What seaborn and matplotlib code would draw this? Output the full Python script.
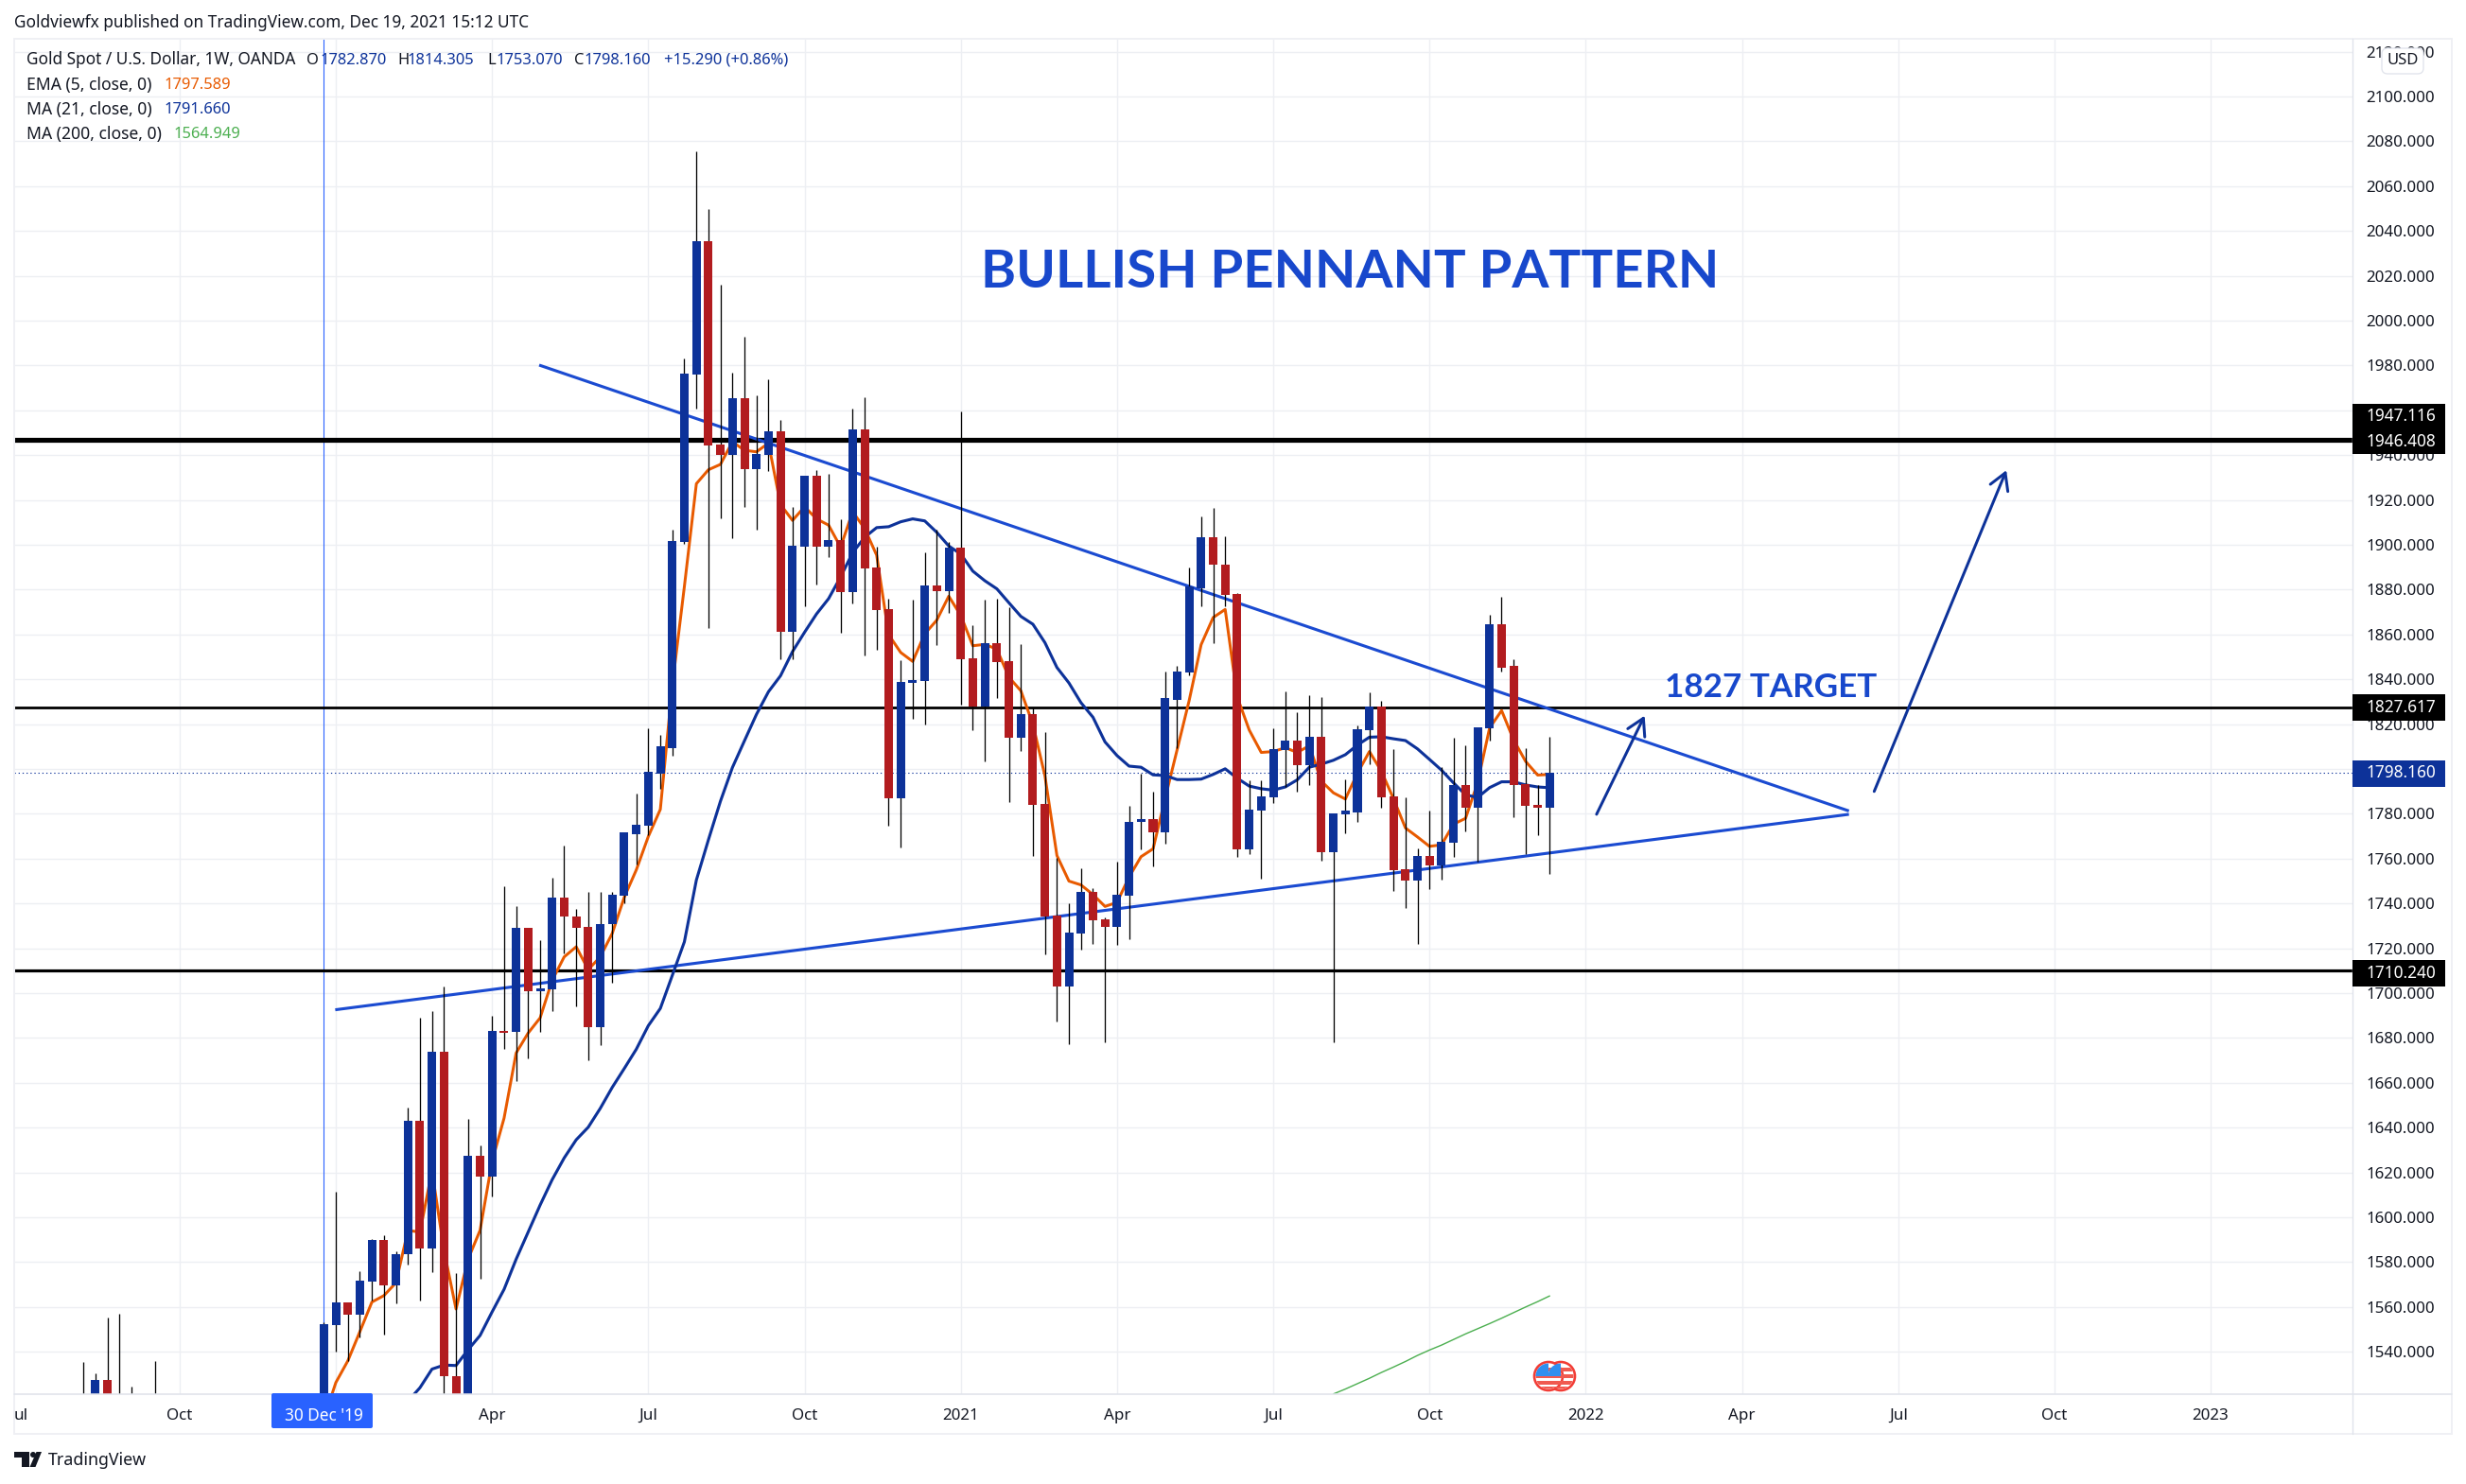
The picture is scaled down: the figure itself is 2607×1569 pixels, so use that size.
import matplotlib
matplotlib.use("Agg")
import matplotlib.pyplot as plt
import seaborn as sns
from matplotlib.patches import Rectangle, Circle, Polygon, FancyBboxPatch
from matplotlib.lines import Line2D
from matplotlib.transforms import Affine2D

W, H = 2607, 1569

# ---- weekly candles, week 0 = 30 Dec 2019 ----
opens = [1517, 1552, 1562, 1556.5, 1571.4, 1590, 1569.6, 1583.4, 1643.1, 1586,
         1674, 1529, 1498, 1627.5, 1618, 1683, 1682.9, 1729.2, 1701, 1701.8,
         1742.8, 1734, 1729.7, 1685, 1730.7, 1743.6, 1771, 1774.7, 1798, 1809.5,
         1901.2, 1976, 2035.4, 1944.7, 1940, 1965.4, 1933.8, 1940, 1950.5, 1861.4,
         1899, 1930.7, 1899, 1902, 1878.9, 1951.4, 1889.8, 1871.3, 1787, 1838.6,
         1839.2, 1881.9, 1879.3, 1898.7, 1849.4, 1828, 1856, 1848, 1813.9, 1824.4,
         1784.3, 1734.5, 1702.9, 1726.5, 1745, 1732.8, 1729.4, 1743.4, 1776.5, 1777.5,
         1771.6, 1831, 1843.1, 1880.8, 1903.6, 1891.3, 1877.9, 1764, 1781.4, 1787.3,
         1808.3, 1812.5, 1801.6, 1814.2, 1762.8, 1779.8, 1780.8, 1817.2, 1827.9, 1787.7,
         1755.1, 1750.1, 1761.1, 1756.9, 1767, 1792.7, 1782.9, 1818, 1864.8, 1845.9,
         1793.2, 1783.8, 1782.87]
closes = [1552.5, 1562, 1556.5, 1571.7, 1590, 1569.6, 1583.5, 1643.1, 1586, 1674,
          1529, 1498, 1627.5, 1618, 1683, 1682.5, 1729.2, 1701, 1702.3, 1742.8,
          1734, 1729.2, 1685, 1730.9, 1744, 1771.6, 1775, 1798.6, 1810, 1901.7,
          1976.4, 2035.4, 1944.3, 1940, 1965.4, 1933.8, 1940.6, 1950.5, 1861.4, 1899.5,
          1930.7, 1899, 1902, 1878.9, 1951.4, 1889.4, 1870.9, 1787, 1838.8, 1839.7,
          1881.9, 1879.3, 1898.7, 1848.9, 1828, 1856, 1847.6, 1813.9, 1824.4, 1783.8,
          1734, 1702.9, 1727, 1745, 1732.4, 1729.4, 1743.8, 1776.6, 1777.5, 1771.6,
          1831.5, 1843.3, 1881.5, 1903.6, 1891, 1877.5, 1764, 1781.7, 1787.7, 1808.8,
          1812.5, 1801.6, 1814.2, 1762.8, 1780, 1781.4, 1817.6, 1827.9, 1787.3, 1754.8,
          1750.1, 1761.1, 1756.9, 1767.4, 1792.7, 1782.9, 1818.4, 1864.8, 1845.3, 1792.7,
          1783.5, 1782.6, 1798.16]
highs = [1553, 1611.5, 1562, 1576, 1590.3, 1592, 1584.7, 1649, 1689, 1692,
         1703, 1575, 1644, 1632, 1690, 1747.7, 1738.8, 1729.2, 1723.7, 1751.4,
         1766, 1737.6, 1745, 1745, 1745, 1771.6, 1789, 1818, 1815.4, 1906.6,
         1983, 2075.4, 2050, 2016, 1977, 1992.7, 1966.7, 1973.8, 1955.7, 1917,
         1930.7, 1933.3, 1931.6, 1911.4, 1960.7, 1965.8, 1899, 1876, 1848.5, 1875.4,
         1896.5, 1906.8, 1901.2, 1959.4, 1864, 1875.4, 1875.8, 1872, 1855.6, 1827.6,
         1816.3, 1760.2, 1740, 1755.7, 1747, 1733.8, 1758.8, 1783.6, 1798.1, 1790,
         1843.3, 1846.2, 1890, 1912.8, 1916.5, 1904, 1878.4, 1795, 1795, 1818.3,
         1834.5, 1825.2, 1832.8, 1831.9, 1780, 1795.5, 1819.3, 1834, 1830.3, 1808.8,
         1787.3, 1764.4, 1781.4, 1800.8, 1813.9, 1810.4, 1818.4, 1868.6, 1877, 1849,
         1809.2, 1792.9, 1814.305]
lows = [1517, 1540, 1536, 1546.5, 1563, 1547.5, 1561.7, 1579, 1563, 1575.6,
        1511, 1451, 1455, 1572.7, 1609.5, 1675, 1661, 1671, 1682.6, 1692,
        1717.6, 1694, 1670, 1677, 1704.5, 1740, 1757.6, 1770.6, 1791, 1806,
        1900.4, 1960.7, 1863, 1912, 1903, 1916.7, 1906.6, 1933, 1849, 1849,
        1872.8, 1882.5, 1894.4, 1860.6, 1873.7, 1850.7, 1853, 1774.9, 1765.2, 1822.2,
        1819.7, 1855.2, 1869.6, 1828.7, 1817.3, 1803.5, 1831.5, 1785.4, 1808, 1761.3,
        1717.2, 1687.5, 1677.3, 1719.3, 1722.1, 1678, 1721.4, 1724.2, 1764, 1756.4,
        1766.5, 1809.2, 1842, 1872.8, 1856, 1872.4, 1761, 1762, 1751, 1784.7,
        1792, 1789.8, 1792.7, 1759, 1678, 1771.2, 1776.6, 1802, 1782.6, 1745.5,
        1737.8, 1722.1, 1746.4, 1750.8, 1760.7, 1772.1, 1758.8, 1812.5, 1843.3, 1778.7,
        1762, 1770.5, 1753.07]

# a few 2019 weeks whose tops poke above the lower edge
early_weeks = [-20, -19, -18, -17, -16, -14]
early_open = [1505, 1520, 1527.6, 1500, 1495, 1490]
early_close = [1500, 1527.6, 1520, 1505, 1490, 1495]
early_high = [1535.5, 1530.6, 1555.3, 1557.2, 1524.7, 1536]
early_low = [1490, 1510, 1505, 1495, 1480, 1485]

ema5 = [1510, 1526.3, 1536, 1549, 1562.2, 1565.1, 1570.8, 1594.2, 1593.4, 1620.8,
        1585.3, 1559.1, 1581.3, 1594.2, 1624.9, 1644.3, 1673.3, 1682.2, 1689, 1705.7,
        1716.2, 1720.7, 1710.5, 1716.2, 1726.7, 1742.8, 1755, 1769.9, 1782, 1837.3,
        1881.4, 1927.3, 1933.5, 1935.9, 1946, 1942.2, 1941.5, 1945.4, 1918, 1910.9,
        1917, 1911.6, 1908.8, 1899, 1914.8, 1907.3, 1895.4, 1859.9, 1852, 1848,
        1860.3, 1866.4, 1877.1, 1868.5, 1855, 1855.6, 1853.5, 1841, 1834.9, 1820,
        1797, 1761.4, 1750, 1748.3, 1744, 1738.7, 1740.5, 1751.8, 1760.9, 1764.4,
        1786.8, 1808.6, 1830.5, 1855.5, 1867.6, 1871.2, 1832.2, 1817.4, 1807.4, 1807.8,
        1809.5, 1807.4, 1810.4, 1794.6, 1789.4, 1786.6, 1798.1, 1807.8, 1799, 1786.8,
        1773.7, 1769.7, 1765.5, 1766.2, 1775.4, 1778, 1793.8, 1818.3, 1826.1, 1813,
        1803.4, 1797.3, 1797.589]

ma21_weeks = list(range(7, 103))
ma21 = [1518, 1524, 1532.3, 1534.1, 1533.9, 1540.9, 1547.3, 1557.8, 1567.9, 1581.3,
        1593.4, 1605.5, 1616.8, 1626.5, 1634.6, 1640.2, 1648.6, 1658, 1666.4, 1675,
        1685.5, 1693.2, 1708, 1722.9, 1750.5, 1768.4, 1785.6, 1800.7, 1812.6, 1824.4,
        1834.5, 1841.6, 1852.4, 1861, 1869.2, 1876, 1885.7, 1896.5, 1903.4, 1907.7,
        1908.1, 1910.3, 1911.6, 1910.7, 1905.6, 1899.5, 1895.9, 1888.3, 1884, 1880.4,
        1874.2, 1868.1, 1864.6, 1856.4, 1845.3, 1838.4, 1829.6, 1823.1, 1812.1, 1806,
        1801.3, 1800.8, 1797.4, 1797.1, 1795.3, 1795.3, 1795.5, 1797.6, 1800.1, 1795.9,
        1792.4, 1791.2, 1790.6, 1792, 1795.2, 1800.8, 1802.2, 1803.9, 1806.4, 1810.7,
        1814.2, 1814.4, 1813.5, 1812.7, 1809, 1804.3, 1799.5, 1793.8, 1788.5, 1787.3,
        1791.7, 1794.3, 1794.3, 1792.9, 1792, 1791.66]
ma200_weeks = list(range(84, 103))
ma200 = [1521.2, 1523.4, 1525.8, 1528.2, 1530.8, 1533.2, 1535.7, 1538.4, 1540.8, 1543,
         1545.5, 1548, 1550.3, 1552.6, 1555, 1557.5, 1560, 1562.4, 1564.95]

down_line_x, down_line_y = [17.92, 126.9], [1980.2, 1781.3]
up_line_x, up_line_y = [0.95, 126.9], [1692.6, 1779.8]
small_arrow_x, small_arrow_y = [105.9, 109.9], [1779.8, 1823.8]
big_arrow_x, big_arrow_y = [129.0, 140.0], [1790.0, 1933.3]

level_prices = [1947.116, 1946.408, 1827.617, 1710.24]
level_widths = [3.2, 3.2, 2.8, 3.2]
last_price = 1798.16

x_tick_weeks = [-12, 1, 14, 27, 40, 53, 66, 79, 92, 105, 118, 131, 144, 157]
x_tick_text = ['Oct', '', 'Apr', 'Jul', 'Oct', '2021', 'Apr', 'Jul', 'Oct', '2022', 'Apr', 'Jul', 'Oct', '2023']
y_ticks = list(range(1540, 2121, 20))
y_hidden = [1800, 1960]  # these labels sit wholly under the price tags

BLUE = '#0D3299'
RED = '#B21C1F'
ORANGE = '#E85A00'
LINE_BLUE = '#1B4BD1'
TEXT = '#131722'
GRID = '#EDEFF3'
SEP = '#E0E3EB'
FONT = 'Noto Sans'
pt = 0.72  # one pixel in points at dpi 100

sns.set_theme(style='white')
plt.rcParams['font.family'] = [FONT, 'DejaVu Sans']

fig = plt.figure(figsize=(W / 100, H / 100), dpi=100, facecolor='white')
AL, AR, AT, AB = 15.3, 2487.0, 40.7, 1474.3
ax = fig.add_axes([AL / W, 1 - AB / H, (AR - AL) / W, (AB - AT) / H])
ax.set_facecolor('white')
ax.set_xlim(-25.74, 168.8)
ax.set_ylim(1521.0, 2125.9)
for s in ax.spines.values():
    s.set_visible(False)
ax.set_axisbelow(True)
ax.grid(True, color=GRID, lw=1.4 * pt)

ax.set_xticks(x_tick_weeks)
ax.set_xticklabels(x_tick_text, fontsize=12.2, color=TEXT, fontfamily=FONT)
for t, lab in zip(ax.get_xticklabels(), x_tick_text):
    if lab.startswith('20'):
        t.set_fontweight('semibold')
ax.tick_params(axis='x', length=0, pad=(1499 - 1474 - 10) * pt)

ax.yaxis.tick_right()
ax.set_yticks(y_ticks)
ax.set_yticklabels(['' if v in y_hidden else f'{v}.000' for v in y_ticks], fontsize=12.2, color=TEXT, fontfamily=FONT)
ax.tick_params(axis='y', length=0, pad=(2574 - AR) * pt)
for t in ax.get_yticklabels():
    t.set_ha('right')

# reference lines and drawings, beneath the candles
for p, w in zip(level_prices, level_widths):
    ax.axhline(p, color='black', lw=w * pt, zorder=2, solid_capstyle='butt')
ax.axhline(last_price, color=BLUE, lw=1.1 * pt, ls=(0, (1.2, 2.6)), zorder=1.5)
ax.axvline(0, color='#2962FF', lw=1.1 * pt, zorder=1.6)
ax.plot(down_line_x, down_line_y, color=LINE_BLUE, lw=3.1 * pt, zorder=2.2, solid_capstyle='butt')
ax.plot(up_line_x, up_line_y, color=LINE_BLUE, lw=3.1 * pt, zorder=2.2, solid_capstyle='butt')

# moving averages with seaborn
sns.lineplot(x=list(range(len(ema5))), y=ema5, ax=ax, color=ORANGE, lw=3.0 * pt, zorder=2.5, errorbar=None, sort=False)
sns.lineplot(x=ma21_weeks, y=ma21, ax=ax, color=BLUE, lw=3.1 * pt, zorder=2.5, errorbar=None, sort=False)
sns.lineplot(x=ma200_weeks, y=ma200, ax=ax, color='#4CAF50', lw=1.4 * pt, zorder=2.5, errorbar=None, sort=False)

# candles
weeks = early_weeks + list(range(len(opens)))
all_o = early_open + opens
all_c = early_close + closes
all_h = early_high + highs
all_l = early_low + lows
ax.vlines(weeks, all_l, all_h, color='black', lw=1.3 * pt, zorder=3)
for w, o, c in zip(weeks, all_o, all_c):
    col = BLUE if c >= o else RED
    ax.bar(w, max(abs(c - o), 0.6), bottom=min(o, c), width=0.71, color=col, linewidth=0, zorder=3.2)

# arrows
for xs, ys in ((small_arrow_x, small_arrow_y), (big_arrow_x, big_arrow_y)):
    ax.annotate('', xy=(xs[1], ys[1]), xytext=(xs[0], ys[0]), annotation_clip=False, zorder=4,
                arrowprops=dict(arrowstyle='->,head_length=0.62,head_width=0.36', mutation_scale=20,
                                color=BLUE, lw=3.0 * pt, shrinkA=0, shrinkB=0))

def ftext(x, y, s, **kw):
    kw.setdefault('va', 'center')
    kw.setdefault('ha', 'left')
    kw.setdefault('color', TEXT)
    kw.setdefault('fontsize', 11.6)
    return fig.text(x / W, 1 - y / H, s, **kw)

px = Affine2D().scale(1, -1).translate(0, H)

def add_px(artist):
    artist.set_transform(px)
    fig.add_artist(artist)
    return artist

# frame
for xy in [((15, 40.7), (2592, 40.7)), ((2592, 40.7), (2592, 1515.7)), ((15, 1515.7), (2592, 1515.7)), ((15, 40.7), (15, 1515.7))]:
    add_px(Line2D([xy[0][0], xy[1][0]], [xy[0][1], xy[1][1]], color='#EFF0F4', lw=2 * pt))
add_px(Line2D([AR, AR], [40.7, 1515.7], color=SEP, lw=1.4 * pt))
add_px(Line2D([15, 2592], [AB, AB], color=SEP, lw=1.6 * pt))

# title block
ftext(15, 24, 'Goldviewfx published on TradingView.com, Dec 19, 2021 15:12 UTC', fontsize=12.4)
ftext(27.5, 63.5, 'Gold Spot / U.S. Dollar, 1W, OANDA', fontsize=12.4)
for x, lab, val_x, val in [(324, 'O', 338.5, '1782.870'), (420, 'H', 430.5, '1814.305'),
                           (515.5, 'L', 525, '1753.070'), (607, 'C', 617.7, '1798.160')]:
    ftext(x, 63.5, lab, fontsize=11.9)
    ftext(val_x, 63.5, val, fontsize=11.9, color=BLUE)
ftext(701.5, 63.5, '+15.290 (+0.86%)', fontsize=11.9, color=BLUE)
ftext(27.5, 90, 'EMA (5, close, 0)', fontsize=12.6)
ftext(174, 90, '1797.589', fontsize=11.9, color=ORANGE)
ftext(27.5, 116, 'MA (21, close, 0)', fontsize=12.6)
ftext(174, 116, '1791.660', fontsize=11.9, color=BLUE)
ftext(27.5, 142, 'MA (200, close, 0)', fontsize=12.6)
ftext(183.7, 142, '1564.949', fontsize=11.9, color='#4CAF50')

# chart annotations
ftext(1427, 288, 'BULLISH PENNANT PATTERN', ha='center', fontsize=40.6, fontweight='bold', color='#1848CC', fontfamily='Lato')
ftext(1872.5, 727, '1827 TARGET', ha='center', fontsize=25.2, fontweight='bold', color='#1848CC', fontfamily='Lato')

# price tags
def tag(y0, y1, col):
    add_px(Rectangle((AR, y0), 2585 - AR, y1 - y0, facecolor=col, edgecolor='none', zorder=20))

tag(427, 480, 'black')
tag(734, 762, 'black')
tag(803.5, 831.5, BLUE)
tag(1015, 1043, 'black')
for y, s in [(440, '1947.116'), (467, '1946.408'), (748, '1827.617'), (817.5, '1798.160'), (1029, '1710.240')]:
    ftext(2575, y, s, ha='right', color='white', fontsize=12.4, fontweight='bold', zorder=21)

# USD button
add_px(FancyBboxPatch((2520, 53), 40, 23, boxstyle='round,pad=2,rounding_size=6', facecolor='white', edgecolor=SEP, lw=1.3 * pt, zorder=20))
ftext(2540, 64, 'USD', ha='center', fontsize=12, zorder=21)

# x-axis extras
add_px(FancyBboxPatch((289, 1475), 103, 33, boxstyle='round,pad=2,rounding_size=2', facecolor='#2962FF', edgecolor='none', zorder=20))
ftext(342, 1497, "30 Dec '19", ha='center', color='white', fontsize=12.4, fontweight='semibold', zorder=21)
ftext(15, 1497, 'ul', fontsize=12.2)

# flag markers
for cx, cy in [(1650, 1455), (1637, 1455)]:
    clip = Circle((cx, cy), 13.5, transform=px)
    add_px(Circle((cx, cy), 15, facecolor='white', edgecolor='#F23D36', lw=2.6 * pt, zorder=10))
    for dy in (-9, -2, 5, 11):
        r = add_px(Rectangle((cx - 14, cy + dy), 28, 3.6, facecolor='#F05A50', edgecolor='none', zorder=11))
        r.set_clip_path(clip)
    r = add_px(Rectangle((cx - 14, cy - 14), 14, 14, facecolor='#2F8FEF', edgecolor='none', zorder=12))
    r.set_clip_path(clip)

# logo
add_px(Polygon([(15, 1535), (31, 1535), (31, 1551), (23, 1551), (23, 1541), (15, 1541)], closed=True, facecolor=TEXT, edgecolor='none'))
add_px(Circle((35, 1538), 3, facecolor=TEXT, edgecolor='none'))
add_px(Polygon([(38.5, 1535), (44, 1535), (37.5, 1551), (31.5, 1551)], closed=True, facecolor=TEXT, edgecolor='none'))
ftext(51, 1544, 'TradingView', fontsize=12.8)

fig.savefig('out.png', dpi=100, facecolor='white')
